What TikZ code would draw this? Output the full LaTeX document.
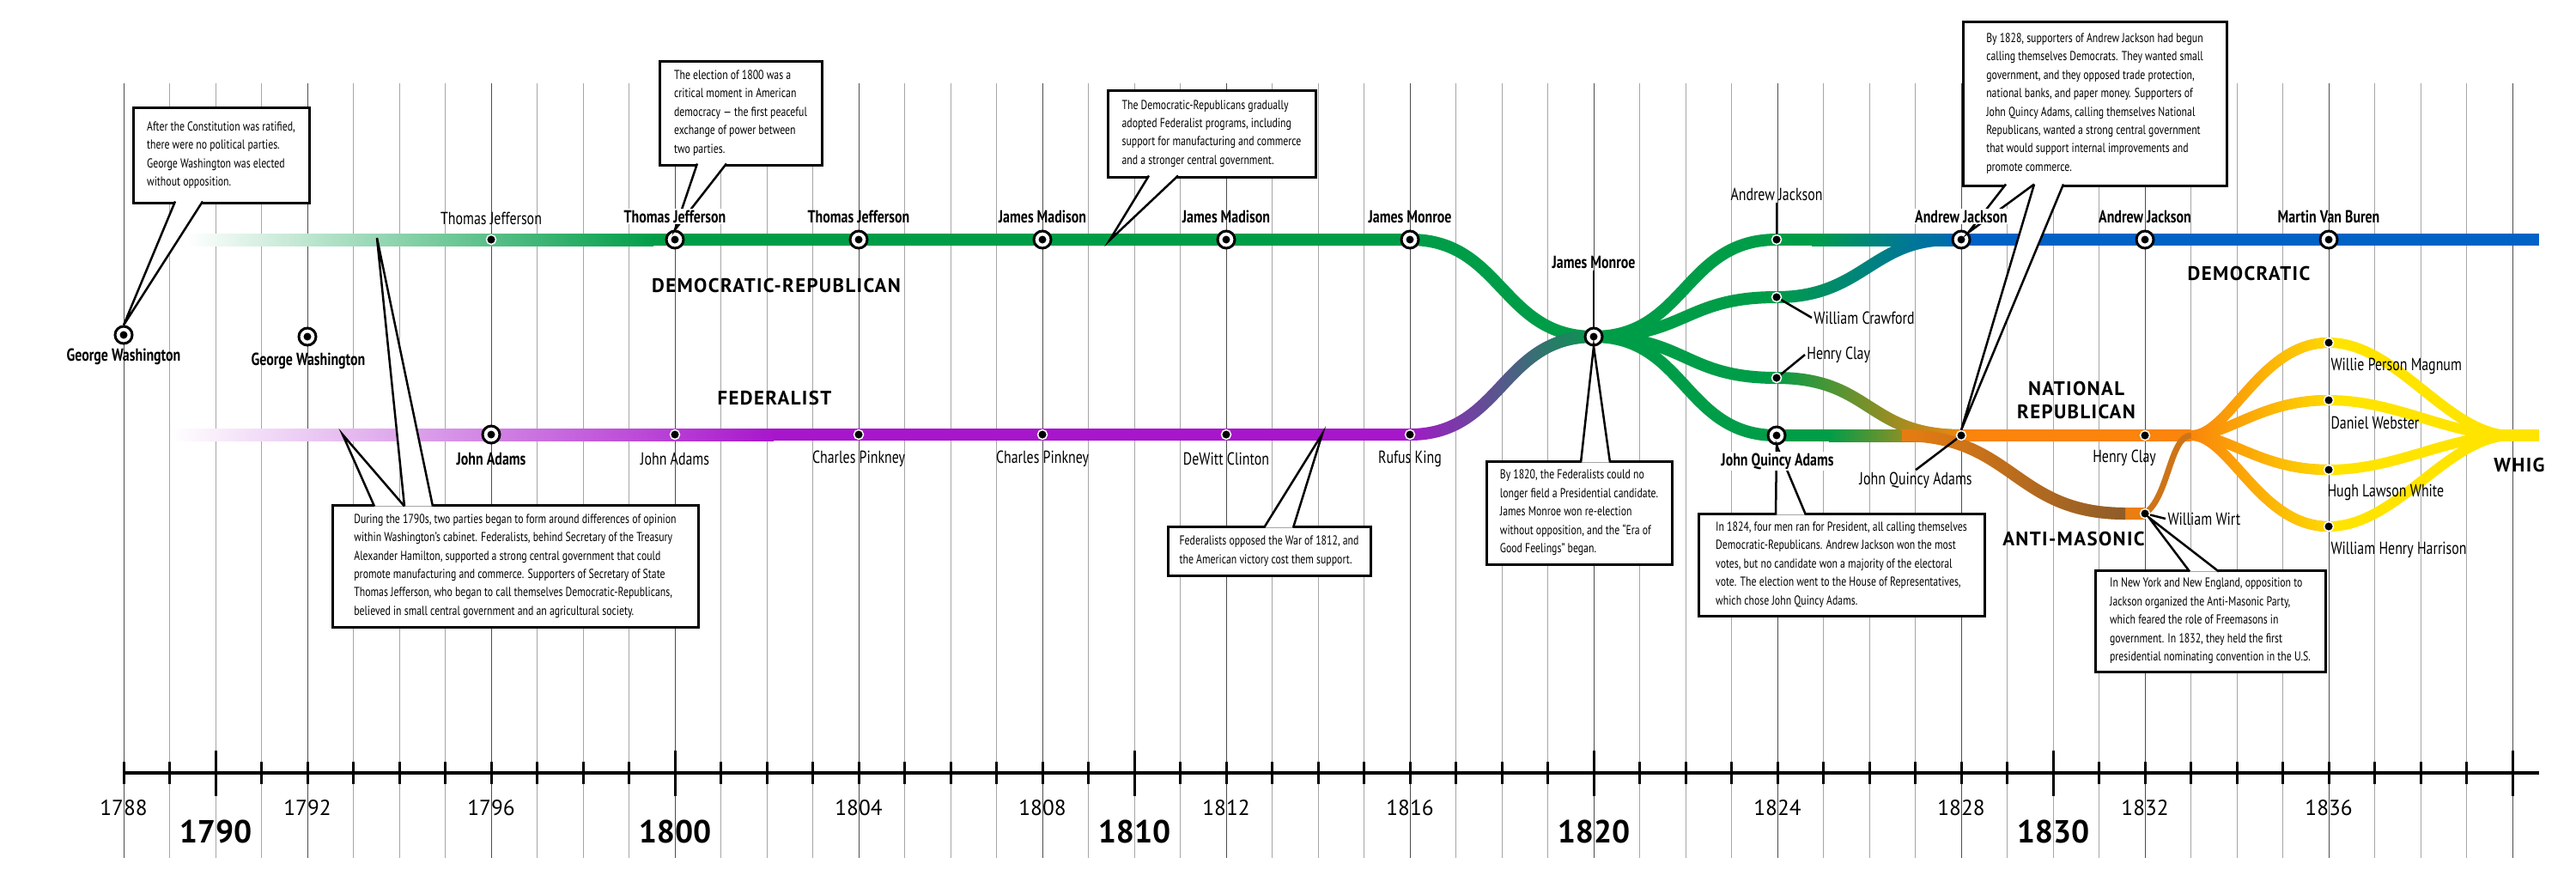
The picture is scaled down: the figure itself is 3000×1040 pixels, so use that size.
\documentclass[tikz,border=0pt]{standalone}
\usepackage{fontspec}
\setmainfont{PT Sans}[FakeStretch=0.78]
\newfontfamily\partyfont{PT Sans}[LetterSpace=6]
\newfontfamily\yearfont{PT Sans}
\usetikzlibrary{calc,positioning,backgrounds,fadings}

\definecolor{drgreen}{RGB}{0,157,72}
\definecolor{fedpurple}{RGB}{168,22,204}
\definecolor{demblue}{RGB}{0,98,196}
\definecolor{nrorange}{RGB}{250,132,12}
\definecolor{ambrown}{RGB}{140,92,42}
\definecolor{whigyellow}{RGB}{255,228,0}

\newcommand\lblfont{\fontsize{5.8}{7}\selectfont}
\newcommand\notefont{\fontsize{4.3}{6.1}\selectfont}
\newcommand\partysize{\fontsize{6.5}{7.7}\selectfont}

\tikzfading[name=fadein, left color=transparent!100, right color=transparent!0]

\tikzset{
  winner/.style={circle, draw=black, line width=0.3mm, fill=white, minimum size=2mm, inner sep=0pt,
    path picture={\fill[black] (path picture bounding box.center) circle (0.45mm);}},
  loser/.style={circle, fill=black, draw=white, line width=0.15mm, minimum size=1.1mm, inner sep=0pt},
  cand/.style={font=\lblfont, inner sep=0.5pt},
  candwin/.style={font=\lblfont\bfseries, inner sep=0.5pt},
  party/.style={font=\partyfont\partysize\bfseries, align=center, inner sep=0pt},
  note/.style={draw=black, line width=0.3mm, fill=white, font=\notefont, align=left,
    anchor=north west, inner xsep=0.8mm, inner ysep=0pt, outer sep=0pt},
  pointer/.style={draw=black, line width=0.25mm, fill=white, line join=miter},
  leader/.style={line width=0.25mm},
  partyline/.style={line width=1.4mm},
  whigline/.style={line width=1.2mm},
}

\begin{document}
\begin{tikzpicture}[x=0.1mm, y=-0.1mm]
\useasboundingbox (0,0) rectangle (3000,1040);

% election markers
\node[winner] (gw1788) at (144,390) {};
\node[winner] (gw1792) at (358,392) {};
\node[loser]  (tj1796) at (572,279) {};
\node[winner] (tj1800) at (786,279) {};
\node[winner] (tj1804) at (1000,279) {};
\node[winner] (jm1808) at (1214,279) {};
\node[winner] (jm1812) at (1428,279) {};
\node[winner] (jmon1816) at (1642,279) {};
\node[winner] (ja1796) at (572,506) {};
\node[loser]  (ja1800) at (786,506) {};
\node[loser]  (cp1804) at (1000,506) {};
\node[loser]  (cp1808) at (1214,506) {};
\node[loser]  (dc1812) at (1428,506) {};
\node[loser]  (rk1816) at (1642,506) {};
\node[winner] (jmon1820) at (1856,392) {};
\node[loser]  (aj1824) at (2069,279) {};
\node[loser]  (wc1824) at (2069,346) {};
\node[loser]  (hc1824) at (2069,440) {};
\node[winner] (jqa1824) at (2069,507) {};
\node[winner] (aj1828) at (2284,279) {};
\node[loser]  (jqa1828) at (2284,507) {};
\node[winner] (aj1832) at (2498,279) {};
\node[loser]  (hc1832) at (2498,507) {};
\node[loser]  (ww1832) at (2498,598) {};
\node[winner] (mvb1836) at (2712,279) {};
\node[loser]  (wpm1836) at (2712,399) {};
\node[loser]  (dw1836) at (2712,466) {};
\node[loser]  (hlw1836) at (2712,547) {};
\node[loser]  (whh1836) at (2712,613) {};
\coordinate (whigfork) at (2552,507);
\coordinate (whigjoin) at (2925,507);

\begin{scope}[on background layer]
% year grid
\foreach \yr in {1788,...,1840} {
  \pgfmathsetmacro\xx{144+53.5*(\yr-1788)}
  \pgfmathtruncatemacro\elec{mod(\yr,4)}
  \ifnum\elec=0 \def\gc{black!70}\else\def\gc{black!35}\fi
  \draw[\gc, line width=0.1mm] (\xx,97) -- (\xx,999);
}
% Democratic-Republican
\shade[left color=white, right color=drgreen] (217,272) rectangle (761,286);
\draw[partyline, drgreen] (760,279) -- (jmon1816.center)
  .. controls +(107,0) and +(-107,0) .. (jmon1820.center);
% Federalist
\shade[left color=white, right color=fedpurple] (198,499) rectangle (901,513);
\draw[partyline, fedpurple] (900,506) -- (rk1816.center)
  .. controls +(107,0) and +(-107,0) .. (jmon1820.center);
\draw[partyline, drgreen, path fading=fadein] (rk1816.center)
  .. controls +(107,0) and +(-107,0) .. (jmon1820.center);
% 1824 split
\foreach \c in {aj1824,wc1824,hc1824,jqa1824}
  \draw[partyline, drgreen] (jmon1820.center) .. controls +(107,0) and +(-107,0) .. (\c.center);
% Democratic
\draw[partyline, drgreen] (aj1824.center) -- (2111,279);
\shade[left color=drgreen, right color=demblue] (2110,272) rectangle (2285,286);
\draw[partyline, demblue] (aj1828.center) -- (2957,279);
\draw[partyline, drgreen] (wc1824.center) .. controls +(100,0) and +(-90,0) .. (2270,279);
\draw[partyline, demblue!85!drgreen, path fading=fadein] (wc1824.center)
  .. controls +(100,0) and +(-90,0) .. (2270,279);
% National Republican
\draw[partyline, drgreen] (jqa1824.center) -- (2131,507);
\shade[left color=drgreen, right color=nrorange] (2130,500) rectangle (2285,514);
\draw[partyline, drgreen] (hc1824.center) .. controls +(110,0) and +(-110,0) .. (jqa1828.center);
\draw[partyline, nrorange, path fading=fadein] (hc1824.center)
  .. controls +(110,0) and +(-110,0) .. (jqa1828.center);
\draw[partyline, nrorange] (jqa1828.center) -- (whigfork);
% Anti-Masonic
\draw[partyline, nrorange!85!ambrown] (2215,507) .. controls +(130,0) and +(-130,0) .. (2475,598) -- (ww1832.center);
\draw[partyline, ambrown, path fading=fadein] (2215,507) .. controls +(130,0) and +(-130,0) .. (2475,598);
\draw[line width=0.7mm, nrorange!60!ambrown] (ww1832.center) .. controls +(28,-20) and +(-25,0) .. (whigfork);
% Whig
\foreach \c in {wpm1836,dw1836,hlw1836,whh1836} {
  \draw[whigline, nrorange] (whigfork) .. controls +(45,0) and +(-80,0) .. (\c.center);
  \draw[whigline, whigyellow!92!nrorange, path fading=fadein] (whigfork) .. controls +(45,0) and +(-80,0) .. (\c.center);
  \draw[whigline, whigyellow] (\c.center) .. controls +(80,0) and +(-75,0) .. (whigjoin);
}
\draw[partyline, whigyellow] (2910,507) -- (2957,507);
\end{scope}

% time axis
\draw[line width=0.4mm] (144,900) -- (2957,900);
\foreach \yr in {1788,...,1840} {
  \pgfmathsetmacro\xx{144+53.5*(\yr-1788)}
  \pgfmathtruncatemacro\dec{mod(\yr,10)}
  \ifnum\dec=0
    \draw[line width=0.3mm] (\xx,874) -- (\xx,927);
  \else
    \draw[line width=0.3mm] (\xx,887) -- (\xx,913);
  \fi
}
\foreach \yr in {1788,1792,1796,1804,1808,1812,1816,1824,1828,1832,1836}
  \node[font=\yearfont\fontsize{7.2}{8}\selectfont] (yr\yr) at ({144+53.5*(\yr-1788)},941) {\yr};
\foreach \yr in {1790,1800,1810,1820,1830}
  \node[font=\yearfont\fontsize{10.6}{12}\selectfont\bfseries] (dec\yr) at ({144+53.5*(\yr-1788)},968) {\yr};

% notes
\node[note, minimum width=20.5mm, minimum height=11.1mm] (noteA) at (155,125)
  {After the Constitution was ratified,\\there were no political parties.\\George Washington was elected\\without opposition.};
\filldraw[pointer] ($(noteA.south west)+(49,-1.5)$) -- (gw1788.north) -- ($(noteA.south west)+(81,-1.5)$);

\node[note, minimum width=18.9mm, minimum height=12.1mm] (noteB) at (768,71)
  {The election of 1800 was a\\critical moment in American\\democracy — the first peaceful\\exchange of power between\\two parties.};
\filldraw[pointer] ($(noteB.south west)+(44,-1.5)$) -- (tj1800.north) -- ($(noteB.south west)+(78,-1.5)$);

\node[note, minimum width=24.2mm, minimum height=10.1mm] (noteC) at (1290,105)
  {The Democratic-Republicans gradually\\adopted Federalist programs, including\\support for manufacturing and commerce\\and a stronger central government.};
\coordinate (drprog) at (1292,280);
\filldraw[pointer] ($(noteC.south west)+(48,-1.5)$) -- (drprog) -- ($(noteC.south west)+(82,-1.5)$);

\node[note, minimum width=42.6mm, minimum height=14.2mm] (noteD) at (387,588)
  {During the 1790s, two parties began to form around differences of opinion\\within Washington’s cabinet. Federalists, behind Secretary of the Treasury\\Alexander Hamilton, supported a strong central government that could\\promote manufacturing and commerce. Supporters of Secretary of State\\Thomas Jefferson, who began to call themselves Democratic-Republicans,\\believed in small central government and an agricultural society.};
\coordinate (fedrise) at (399,506);
\coordinate (drrise) at (439,277);
\filldraw[pointer] ($(noteD.north west)+(49,1.5)$) -- (fedrise) -- ($(noteD.north west)+(84,1.5)$);
\filldraw[pointer] ($(noteD.north west)+(84,1.5)$) -- (drrise) -- ($(noteD.north west)+(117,1.5)$);

\node[note, minimum width=23.6mm, minimum height=5.7mm] (noteE) at (1360,613)
  {Federalists opposed the War of 1812, and\\the American victory cost them support.};
\coordinate (fedwar) at (1540,505);
\filldraw[pointer] ($(noteE.north west)+(112,1.5)$) -- (fedwar) -- ($(noteE.north west)+(146,1.5)$);

\node[note, minimum width=21.6mm, minimum height=12mm] (noteF) at (1731,537)
  {By 1820, the Federalists could no\\longer field a Presidential candidate.\\James Monroe won re-election\\without opposition, and the “Era of\\Good Feelings” began.};
\filldraw[pointer] ($(noteF.north west)+(110,1.5)$) -- (jmon1820.south) -- ($(noteF.north west)+(144,1.5)$);

\node[note, minimum width=33.3mm, minimum height=11.9mm] (noteG) at (1978,598)
  {In 1824, four men ran for President, all calling themselves\\Democratic-Republicans. Andrew Jackson won the most\\votes, but no candidate won a majority of the electoral\\vote. The election went to the House of Representatives,\\which chose John Quincy Adams.};
\filldraw[pointer] ($(noteG.north west)+(90,1.5)$) -- (jqa1824.south) -- ($(noteG.north west)+(125,1.5)$);

\node[note, minimum width=30.7mm, minimum height=19.1mm] (noteH) at (2286,25)
  {By 1828, supporters of Andrew Jackson had begun\\calling themselves Democrats. They wanted small\\government, and they opposed trade protection,\\national banks, and paper money. Supporters of\\John Quincy Adams, calling themselves National\\Republicans, wanted a strong central government\\that would support internal improvements and\\promote commerce.};
\filldraw[pointer] ($(noteH.south west)+(50,-1.5)$) -- (aj1828.north east) -- ($(noteH.south west)+(83,-1.5)$);
\filldraw[pointer] ($(noteH.south west)+(83,-1.5)$) -- (jqa1828.north) -- ($(noteH.south west)+(117,-1.5)$);

\node[note, minimum width=26.8mm, minimum height=11.8mm] (noteI) at (2440,664)
  {In New York and New England, opposition to\\Jackson organized the Anti-Masonic Party,\\which feared the role of Freemasons in\\government. In 1832, they held the first\\presidential nominating convention in the U.S.};
\filldraw[pointer] ($(noteI.north west)+(110,1.5)$) -- (ww1832.south east) -- ($(noteI.north west)+(144,1.5)$);

% candidate names
\node[candwin] (gw1788l) at (144,415) {George Washington};
\node[candwin] (gw1792l) at (359,420) {George Washington};
\node[cand]    (tj1796l) at (572,254) {Thomas Jefferson};
\node[candwin, fill=white] (tj1800l) at (786,252) {Thomas Jefferson};
\node[candwin] (tj1804l) at (1000,252) {Thomas Jefferson};
\node[candwin] (jm1808l) at (1214,252) {James Madison};
\node[candwin] (jm1812l) at (1428,252) {James Madison};
\node[candwin] (jmon1816l) at (1642,252) {James Monroe};
\node[candwin] (ja1796l) at (572,534) {John Adams};
\node[cand]    (ja1800l) at (786,534) {John Adams};
\node[cand]    (cp1804l) at (1000,534) {Charles Pinkney};
\node[cand]    (cp1808l) at (1214,534) {Charles Pinkney};
\node[cand]    (dc1812l) at (1428,534) {DeWitt Clinton};
\node[cand]    (rk1816l) at (1642,534) {Rufus King};
\node[candwin] (jmon1820l) at (1856,305) {James Monroe};
\node[cand]    (aj1824l) at (2069,226) {Andrew Jackson};
\node[cand, anchor=west] (wc1824l) at (2110,370) {William Crawford};
\node[cand, anchor=west] (hc1824l) at (2102,413) {Henry Clay};
\node[candwin, fill=white] (jqa1824l) at (2070,537) {John Quincy Adams};
\node[candwin, fill=white] (aj1828l) at (2284,252) {Andrew Jackson};
\node[cand]    (jqa1828l) at (2231,559) {John Quincy Adams};
\node[candwin] (aj1832l) at (2498,252) {Andrew Jackson};
\node[cand]    (hc1832l) at (2474,533) {Henry Clay};
\node[cand, anchor=west] (ww1832l) at (2522,604) {William Wirt};
\node[candwin] (mvb1836l) at (2712,252) {Martin Van Buren};
\node[cand, anchor=west] (wpm1836l) at (2712,426) {Willie Person Magnum};
\node[cand, anchor=west] (dw1836l) at (2712,492) {Daniel Webster};
\node[cand, anchor=west] (hlw1836l) at (2708,573) {Hugh Lawson White};
\node[cand, anchor=west] (whh1836l) at (2712,640) {William Henry Harrison};

\draw[line width=0.2mm] (jmon1820l.south) -- (jmon1820.north);
\draw[leader] (aj1824l.south) -- (aj1824.north);
\draw[leader] (wc1824) -- (wc1824l.west);
\draw[leader] (hc1824) -- (hc1824l.west);
\draw[leader] (jqa1828) -- (jqa1828l.north);
\draw[leader] (ww1832) -- (ww1832l.west);

% party names
\node[party] (drname) at (904,332) {DEMOCRATIC-REPUBLICAN};
\node[party] (fedname) at (902,463) {FEDERALIST};
\node[party] (demname) at (2619,318) {DEMOCRATIC};
\node[party] (nrname) at (2418,466) {NATIONAL\\REPUBLICAN};
\node[party] (amname) at (2415,627) {ANTI-MASONIC};
\node[party] (whigname) at (2934,541) {WHIG};
\end{tikzpicture}
\end{document}
